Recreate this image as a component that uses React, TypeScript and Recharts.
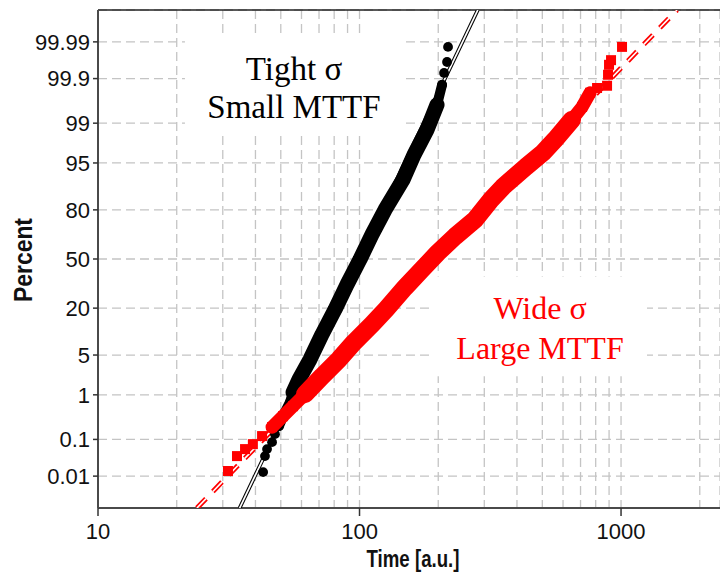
import React from 'react';
import {
  ScatterChart,
  Scatter,
  XAxis,
  YAxis,
  CartesianGrid,
  ReferenceArea,
  ReferenceLine,
} from 'recharts';

// Inverse of the standard normal CDF (Acklam's rational approximation),
// used to place cumulative percentages on a normal-probability axis.
function probit(p: number): number {
  const a = [-3.969683028665376e1, 2.209460984245205e2, -2.759285104469687e2, 1.38357751867269e2, -3.066479806614716e1, 2.506628277459239];
  const b = [-5.447609879822406e1, 1.615858368580409e2, -1.556989798598866e2, 6.680131188771972e1, -1.328068155288572e1];
  const c = [-7.784894002430293e-3, -3.223964580411365e-1, -2.400758277161838, -2.549732539343734, 4.374664141464968, 2.938163982698783];
  const d = [7.784695709041462e-3, 3.224671290700398e-1, 2.445134137142996, 3.754408661907416];
  const plow = 0.02425;
  if (p < plow) {
    const q = Math.sqrt(-2 * Math.log(p));
    return (((((c[0] * q + c[1]) * q + c[2]) * q + c[3]) * q + c[4]) * q + c[5]) / ((((d[0] * q + d[1]) * q + d[2]) * q + d[3]) * q + 1);
  }
  if (p <= 1 - plow) {
    const q = p - 0.5;
    const r = q * q;
    return ((((((a[0] * r + a[1]) * r + a[2]) * r + a[3]) * r + a[4]) * r + a[5]) * q) / (((((b[0] * r + b[1]) * r + b[2]) * r + b[3]) * r + b[4]) * r + 1);
  }
  const q = Math.sqrt(-2 * Math.log(1 - p));
  return -(((((c[0] * q + c[1]) * q + c[2]) * q + c[3]) * q + c[4]) * q + c[5]) / ((((d[0] * q + d[1]) * q + d[2]) * q + d[3]) * q + 1);
}

// ---------- axes ----------
const timeGrid = [10, 20, 30, 40, 50, 60, 70, 80, 90, 100, 200, 300, 400, 500, 600, 700, 800, 900, 1000, 2000];
const timeTickLabels = [10, 100, 1000];
const percentTickLabels = ['0.01', '0.1', '1', '5', '20', '50', '80', '95', '99', '99.9', '99.99'];

// ---------- tight-sigma population (black) ----------
const tightTimes = [42.8, 43.5, 44.3, 46.3, 47.5, 49.2, 51.4, 54.2, 55.7, 58.7, 64.7, 71.9, 80.6, 89.6, 100.4, 111.6, 125.2, 146.7, 161.6, 181.2, 197.9, 206.8, 210.5, 216.1, 218.0];
const tightPercents = [0.0131, 0.0368, 0.0565, 0.0854, 0.135, 0.21, 0.39, 0.71, 1.12, 1.97, 4.29, 9.84, 19.4, 33.1, 49.7, 66.2, 80.1, 91.3, 96.3, 98.66, 99.59, 99.857, 99.928, 99.963, 99.986];

// ---------- wide-sigma population (red) ----------
const wideTimes = [31.4, 34.0, 36.5, 39.1, 42.4, 46.3, 51.0, 55.7, 61.9, 71.9, 83.5, 95.3, 111.6, 126.3, 149.3, 173.4, 199.6, 231.8, 276.5, 318.4, 353.9, 433.2, 503.1, 559.3, 649.4, 709.5, 761.3, 809.6, 884.2, 891.9, 899.7, 915.7, 1008.8];
const widePercents = [0.0141, 0.0368, 0.0565, 0.076, 0.121, 0.199, 0.355, 0.585, 1.03, 2.23, 4.29, 7.68, 13.1, 19.4, 31.3, 42.9, 54.4, 65.0, 75.0, 84.5, 89.2, 94.3, 96.57, 97.95, 99.15, 99.54, 99.78, 99.83, 99.85, 99.92, 99.956, 99.967, 99.986];

// ---------- lognormal fit lines (end points) ----------
const fitPercents = [0.001, 99.999];
const tightFitTimes = [34.8, 283.3];
const wideFitTimes = [23.9, 1637];

type Pt = { t: number; p: number; z: number };
const toPoints = (times: number[], percents: number[]): Pt[] =>
  times.map((t, i) => ({ t, p: percents[i], z: probit(percents[i] / 100) }));
const within = (pts: Pt[], lo: number, hi: number) => pts.filter((d) => d.p >= lo && d.p <= hi);

const tightPts = toPoints(tightTimes, tightPercents);
const widePts = toPoints(wideTimes, widePercents);
const tightFit = toPoints(tightFitTimes, fitPercents);
const wideFit = toPoints(wideFitTimes, fitPercents);

const Y_MIN = probit(fitPercents[0] / 100);
const Y_MAX = probit(fitPercents[1] / 100);
const percentTicks = percentTickLabels.map((s) => probit(parseFloat(s) / 100));

const AXIS_FONT = "'Liberation Sans Narrow', 'Liberation Sans', Arial, sans-serif";
const TITLE_FONT = "'Liberation Sans', Arial, sans-serif";
const SERIF = "'Liberation Serif', 'Times New Roman', serif";
const RED = '#ff0000';

const Dot = (props: any) => <circle cx={props.cx} cy={props.cy} r={4.9} fill="#000" />;
const Square = (props: any) => (
  <rect x={props.cx - 5} y={props.cy - 5} width={10} height={10} fill={RED} />
);
const NoMark = () => <g />;

function TimeTick(props: any) {
  const { x, y, payload } = props;
  if (!timeTickLabels.includes(payload.value)) return <g />;
  return (
    <g>
      <line x1={x} x2={x} y1={y - 10} y2={y - 2} stroke="#333" strokeWidth={1.5} />
      <text x={x} y={y + 21} textAnchor="middle" fill="#111" fontFamily={AXIS_FONT} fontSize={22}>
        {payload.value}
      </text>
    </g>
  );
}

const percentFormatter = (v: number) => {
  let best = 0;
  percentTicks.forEach((z, i) => {
    if (Math.abs(z - v) < Math.abs(percentTicks[best] - v)) best = i;
  });
  return percentTickLabels[best];
};

function caption(lines: string[], color: string, size: number, first: number, second: number) {
  return (props: any) => {
    const { x, y, width } = props.viewBox;
    const cx = x + width / 2;
    return (
      <text textAnchor="middle" fill={color} fontFamily={SERIF} fontSize={size}>
        <tspan x={cx} y={y + first}>{lines[0]}</tspan>
        <tspan x={cx} y={y + second}>{lines[1]}</tspan>
      </text>
    );
  };
}

const percentTitle = (props: any) => {
  const vb = props.viewBox;
  const cy = vb.y + vb.height / 2 + 1;
  const cx = 32;
  return (
    <text
      x={cx}
      y={cy}
      transform={`rotate(-90, ${cx}, ${cy})`}
      textAnchor="middle"
      fill="#111"
      fontFamily={TITLE_FONT}
      fontWeight="bold"
      fontSize={25}
      textLength={84}
      lengthAdjust="spacingAndGlyphs"
    >
      Percent
    </text>
  );
};

const timeTitle = (props: any) => {
  const vb = props.viewBox;
  return (
    <text
      x={vb.x + vb.width / 2 + 4}
      y={567}
      textAnchor="middle"
      fill="#111"
      fontFamily={TITLE_FONT}
      fontWeight="bold"
      fontSize={24}
      textLength={93}
      lengthAdjust="spacingAndGlyphs"
    >
      Time [a.u.]
    </text>
  );
};

export default function App() {
  return (
    <div style={{ position: 'absolute', left: 0, top: 0, width: 720, height: 572, background: '#fff' }}>
      <ScatterChart width={720} height={572} margin={{ top: 10, right: 0, bottom: 0, left: 0 }}>
        <CartesianGrid stroke="#c4c4c4" strokeWidth={1.3} strokeDasharray="9 5" />
        <XAxis
          type="number"
          dataKey="t"
          scale="log"
          domain={[10, 2390]}
          allowDataOverflow
          ticks={timeGrid}
          interval={0}
          height={64}
          tickSize={8}
          tickMargin={2}
          tickLine={false}
          tick={<TimeTick />}
          axisLine={{ stroke: '#4a4a4a', strokeWidth: 2 }}
          label={timeTitle}
        />
        <YAxis
          type="number"
          dataKey="z"
          domain={[Y_MIN, Y_MAX]}
          allowDataOverflow
          ticks={percentTicks}
          interval={0}
          width={98}
          tickSize={5}
          tickMargin={3}
          tickFormatter={percentFormatter}
          tick={{ fill: '#111', fontSize: 22, fontFamily: AXIS_FONT }}
          tickLine={{ stroke: '#333', strokeWidth: 1.5 }}
          axisLine={{ stroke: '#4a4a4a', strokeWidth: 2 }}
          label={percentTitle}
        />
        <ReferenceLine y={Y_MAX} stroke="#222" strokeWidth={1.5} />

        <ReferenceArea
          x1={21.5}
          x2={146.7}
          y1={2.162}
          y2={3.838}
          fill="#fff"
          fillOpacity={1}
          stroke="none"
          label={caption(['Tight σ', 'Small MTTF'], '#000', 33, 45, 83)}
        />
        <ReferenceArea
          x1={191}
          x2={1257}
          y1={-2.009}
          y2={-0.299}
          fill="#fff"
          fillOpacity={1}
          stroke="none"
          label={caption(['Wide σ', 'Large MTTF'], RED, 32, 43, 83)}
        />

        {/* lognormal fits, drawn beneath the samples */}
        <Scatter data={tightFit} shape={NoMark} line={{ stroke: '#000', strokeWidth: 3.8 }} isAnimationActive={false} />
        <Scatter data={tightFit} shape={NoMark} line={{ stroke: '#fff', strokeWidth: 1.7 }} isAnimationActive={false} />
        <Scatter
          data={wideFit}
          shape={NoMark}
          line={{ stroke: RED, strokeWidth: 5, strokeDasharray: '13 10' }}
          isAnimationActive={false}
        />
        <Scatter
          data={wideFit}
          shape={NoMark}
          line={{ stroke: '#fff', strokeWidth: 1.6, strokeDasharray: '13 10' }}
          isAnimationActive={false}
        />

        {/* tight population: samples and dense band */}
        <Scatter data={tightPts} shape={Dot} isAnimationActive={false} />
        <Scatter
          data={within(tightPts, 0.2, 99.86)}
          shape={NoMark}
          line={{ stroke: '#000', strokeWidth: 10, strokeLinecap: 'round', strokeLinejoin: 'round' }}
          isAnimationActive={false}
        />
        <Scatter
          data={within(tightPts, 1.1, 99.6)}
          shape={NoMark}
          line={{ stroke: '#000', strokeWidth: 15, strokeLinecap: 'round', strokeLinejoin: 'round' }}
          isAnimationActive={false}
        />

        {/* wide population: samples and dense band */}
        <Scatter data={widePts} shape={Square} isAnimationActive={false} />
        <Scatter
          data={within(widePts, 0.19, 99.79)}
          shape={NoMark}
          line={{ stroke: RED, strokeWidth: 13, strokeLinecap: 'round', strokeLinejoin: 'round' }}
          isAnimationActive={false}
        />
        <Scatter
          data={within(widePts, 1.0, 99.2)}
          shape={NoMark}
          line={{ stroke: RED, strokeWidth: 18, strokeLinecap: 'round', strokeLinejoin: 'round' }}
          isAnimationActive={false}
        />
      </ScatterChart>
    </div>
  );
}
